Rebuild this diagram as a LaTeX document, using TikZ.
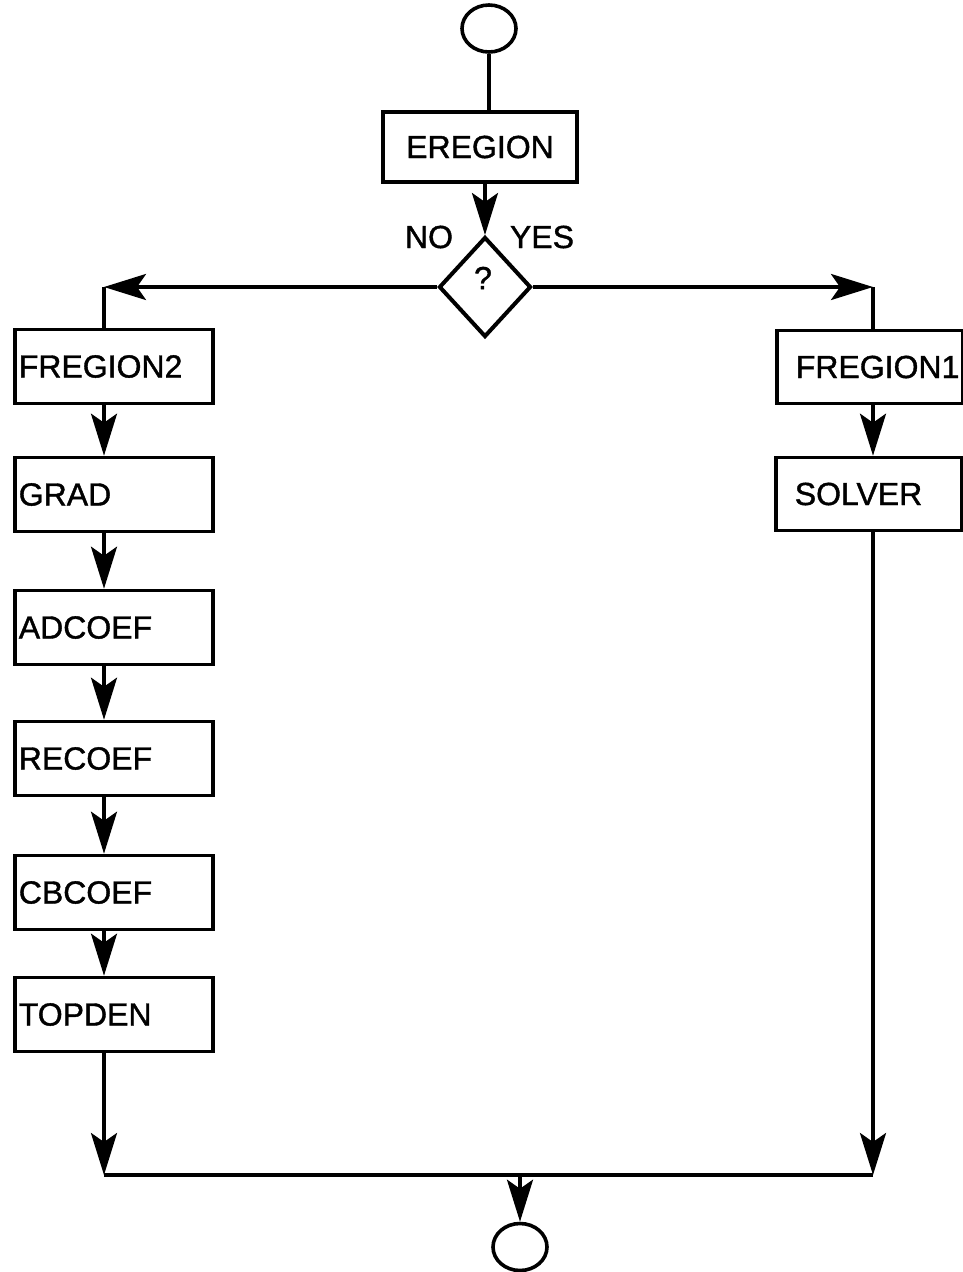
\documentclass[tikz,border=0pt]{standalone}
\usepackage{fontspec}
\setmainfont{Liberation Sans}
\newfontfamily\heavy{Liberation Sans}[FakeBold=1.2]
\usetikzlibrary{arrows.meta,shapes.geometric}
\tikzset{
  flow/.style={line width=3.6pt},
  arr/.style={flow,-{Stealth[length=42pt,width=26pt,inset=9pt]}},
  term/.style={draw,flow,ellipse,minimum width=54pt,minimum height=47pt,inner sep=0pt},
  txt/.style={font=\heavy\fontsize{32}{38}\selectfont},
  cbox/.style={draw,flow,txt,rectangle,minimum width=194pt,minimum height=70pt,inner sep=0pt},
  proc/.style={draw,flow,txt,rectangle,anchor=west,inner xsep=0pt,inner ysep=0pt,align=left},
  lbox/.style={proc,text width=198pt,minimum height=74pt,execute at begin node=\hspace*{4pt}},
  rbox/.style={proc,text width=186pt,minimum height=73pt,execute at begin node=\hspace*{19pt}},
  ask/.style={draw,txt,line width=4pt,diamond,minimum width=92pt,minimum height=100pt,inner sep=0pt}
}
\begin{document}
\begin{tikzpicture}[x=1pt,y=-1pt]
    \useasboundingbox (0,0) rectangle (963,1272);
    % start and EREGION
    \node[term] (start) at (489,28.5) {};
    \node[cbox] (eregion) at (480,147) {EREGION};
    \draw[flow] (start.south) -- (start.south |- eregion.north);
    % decision
    \node[ask] (decision) at (485,287) {};
    \node[txt] (mark) at (483,278) {?};
    \node[txt] (no) at (429,237) {NO};
    \node[txt] (yes) at (542,237) {YES};
    \draw[arr] (eregion.south -| decision.north) -- (decision.north);
    % columns
    \coordinate (lcol) at (104,0);
    \coordinate (rcol) at (873,0);
    \coordinate (merge) at (520,1175);
    % NO branch
    \node[lbox] (fregion2) at (13,366.5) {FREGION2};
    \node[lbox] (grad) at (13,494.5) {GRAD};
    \node[lbox] (adcoef) at (13,627.5) {ADCOEF};
    \node[lbox] (recoef) at (13,758.5) {RECOEF};
    \node[lbox] (cbcoef) at (13,892.5) {CBCOEF};
    \node[lbox] (topden) at (13,1014.5) {TOPDEN};
    \draw[arr] (decision.west) -- (lcol |- decision.west);
    \draw[flow] (lcol |- decision.west) -- (fregion2.north -| lcol);
    \draw[arr] (fregion2.south -| lcol) -- (grad.north -| lcol);
    \draw[arr] (grad.south -| lcol) -- (adcoef.north -| lcol);
    \draw[arr] (adcoef.south -| lcol) -- (recoef.north -| lcol);
    \draw[arr] (recoef.south -| lcol) -- (cbcoef.north -| lcol);
    \draw[arr] (cbcoef.south -| lcol) -- (topden.north -| lcol);
    \draw[arr] (topden.south -| lcol) -- (lcol |- merge);
    % YES branch
    \node[rbox] (fregion1) at (775,367) {FREGION1};
    \node[rbox] (solver) at (774,494) {SOLVER};
    \draw[arr] (decision.east) -- (rcol |- decision.east);
    \draw[flow] (rcol |- decision.east) -- (fregion1.north -| rcol);
    \draw[arr] (fregion1.south -| rcol) -- (solver.north -| rcol);
    \draw[arr] (solver.south -| rcol) -- (rcol |- merge);
    % join and end
    \draw[flow] (lcol |- merge) -- (rcol |- merge);
    \node[term] (stop) at (520,1247) {};
    \draw[arr] (merge) -- (stop.north);
\end{tikzpicture}
\end{document}
